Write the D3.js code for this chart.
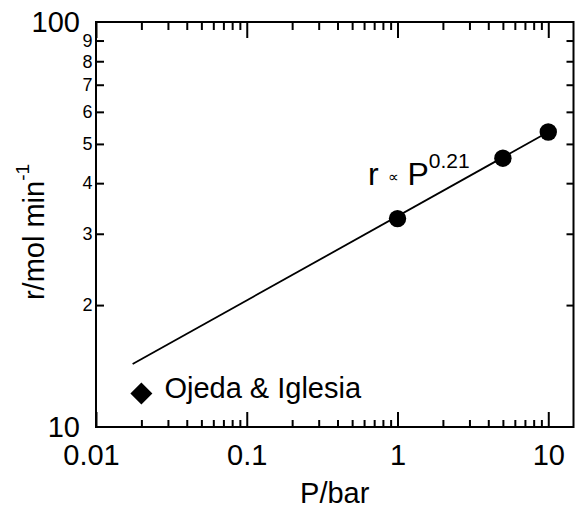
<!DOCTYPE html>
<html>
<head>
<meta charset="utf-8">
<script src="https://cdn.jsdelivr.net/npm/d3@7"></script>
<style>
body { margin: 0; background: #fff; }
svg { font-family: "Liberation Sans", Arial, Helvetica, sans-serif; }
</style>
</head>
<body>
<script>
// data
var pressure = [1, 5, 10];
var rate = [32.7, 46.1, 53.5];
var fitP = [0.0175, 10];
var fitR = [14.3, 53.5];
var refP = [0.02];
var refR = [12.1];
var refName = "Ojeda & Iglesia";
var xMajor = [0.01, 0.1, 1, 10];
var xMajorLabels = ["0.01", "0.1", "1", "10"];
var yMajor = [10, 100];
var yMinor = [20, 30, 40, 50, 60, 70, 80, 90];
var yMinorLabels = ["2", "3", "4", "5", "6", "7", "8", "9"];

var W = 575, H = 508;
var mLeft = 96, mRight = 573.5, mTop = 22, mBottom = 427;

var svg = d3.select('body').append('svg')
    .attr('width', W)
    .attr('height', H);

var x = d3.scaleLog().domain([0.01, 14.7]).range([mLeft, mRight]);
var y = d3.scaleLog().domain([10, 100]).range([mBottom, mTop]);

// minor x ticks 2..9 per decade
var xMinor = [];
[0.01, 0.1, 1, 10].forEach(function (d) {
    for (var k = 2; k <= 9; k++) {
        if (d * k <= 14.7) xMinor.push(d * k);
    }
});

function styleAxis(g) {
    g.select('.domain').remove();
    g.selectAll('line').attr('stroke', '#000').attr('stroke-width', 2);
    g.selectAll('text').attr('fill', '#000');
}

// bottom
svg.append('g')
    .attr('transform', 'translate(0,' + mBottom + ')')
    .call(d3.axisBottom(x).tickValues(xMinor).tickSize(-7).tickFormat(''))
    .call(styleAxis);
svg.append('g')
    .attr('transform', 'translate(0,' + mBottom + ')')
    .call(d3.axisBottom(x).tickValues(xMajor).tickSize(-15).tickPadding(17)
        .tickFormat(function (d, i) { return xMajorLabels[i]; }))
    .call(styleAxis)
    .selectAll('text')
    .attr('font-size', 29)
    .attr('dx', function (d, i) { return i === 0 ? -5 : 0; });

// top
svg.append('g')
    .attr('transform', 'translate(0,' + mTop + ')')
    .call(d3.axisTop(x).tickValues(xMinor).tickSize(-8).tickFormat(''))
    .call(styleAxis);
svg.append('g')
    .attr('transform', 'translate(0,' + mTop + ')')
    .call(d3.axisTop(x).tickValues(xMajor).tickSize(-16).tickFormat(''))
    .call(styleAxis);

// left
svg.append('g')
    .attr('transform', 'translate(' + mLeft + ',0)')
    .call(d3.axisLeft(y).tickValues(yMinor).tickSize(-8).tickPadding(3.5)
        .tickFormat(function (d, i) { return yMinorLabels[i]; }))
    .call(styleAxis)
    .selectAll('text').attr('font-size', 18);
svg.append('g')
    .attr('transform', 'translate(' + mLeft + ',0)')
    .call(d3.axisLeft(y).tickValues(yMajor).tickSize(0).tickPadding(16)
        .tickFormat(d3.format('d')))
    .call(styleAxis)
    .selectAll('text').attr('font-size', 29);

// right
svg.append('g')
    .attr('transform', 'translate(' + mRight + ',0)')
    .call(d3.axisRight(y).tickValues(yMinor).tickSize(-7).tickFormat(''))
    .call(styleAxis);

// frame
svg.append('rect')
    .attr('x', mLeft).attr('y', mTop)
    .attr('width', mRight - mLeft).attr('height', mBottom - mTop)
    .attr('fill', 'none')
    .attr('stroke', '#000')
    .attr('stroke-width', 2);

// fit line
var fit = fitP.map(function (p, i) { return { p: p, r: fitR[i] }; });
svg.append('path')
    .datum(fit)
    .attr('d', d3.line().x(function (d) { return x(d.p); }).y(function (d) { return y(d.r); }))
    .attr('fill', 'none')
    .attr('stroke', '#000')
    .attr('stroke-width', 1.8);

// data points
var pts = pressure.map(function (p, i) { return { p: p, r: rate[i] }; });
svg.selectAll('circle')
    .data(pts)
    .enter()
    .append('circle')
    .attr('cx', function (d) { return x(d.p); })
    .attr('cy', function (d) { return y(d.r); })
    .attr('r', 8.7)
    .attr('fill', '#000');

// reference point (diamond)
var ref = refP.map(function (p, i) { return { p: p, r: refR[i] }; });
svg.selectAll('path.diamond')
    .data(ref)
    .enter()
    .append('path')
    .attr('class', 'diamond')
    .attr('d', 'M0,-11L11,0L0,11L-11,0Z')
    .attr('transform', function (d) { return 'translate(' + x(d.p) + ',' + y(d.r) + ')'; })
    .attr('fill', '#000');

svg.append('text')
    .attr('x', x(refP[0]) + 23)
    .attr('y', y(refR[0]) + 5)
    .attr('font-size', 29)
    .text(refName);

// power-law annotation
var ann = svg.append('text')
    .attr('x', 368)
    .attr('y', 185)
    .attr('font-size', 32);
ann.append('tspan').text('r ');
ann.append('tspan').attr('font-size', 15).attr('dy', -3).text('\u221D');
ann.append('tspan').attr('dy', 3).text(' P');
ann.append('tspan').attr('font-size', 21).attr('dy', -17).text('0.21');

// axis titles
svg.append('text')
    .attr('x', (mLeft + mRight) / 2)
    .attr('y', 503)
    .attr('text-anchor', 'middle')
    .attr('font-size', 29)
    .text('P/bar');

var yl = svg.append('text')
    .attr('transform', 'translate(44,232) rotate(-90)')
    .attr('text-anchor', 'middle')
    .attr('font-size', 29);
yl.append('tspan').text('r/mol min');
yl.append('tspan').attr('font-size', 19).attr('dy', -15).text('-1');
</script>
</body>
</html>
